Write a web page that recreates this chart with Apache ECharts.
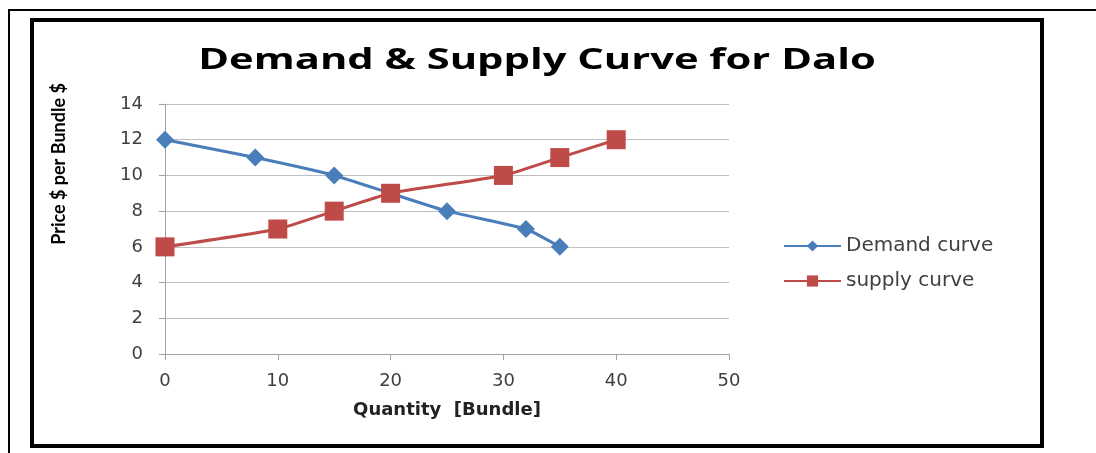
<!DOCTYPE html>
<html>
<head>
<meta charset="utf-8">
<style>
  html, body { margin: 0; padding: 0; background: #fff; }
  #chart { width: 1096px; height: 453px; }
</style>
<script src="https://cdn.jsdelivr.net/npm/echarts@6/dist/echarts.min.js"></script>
</head>
<body>
<div id="chart"></div>
<script>
// values
const demandQty = [0, 8, 15, 20, 25, 32, 35]
const demandPrice = [12, 11, 10, 9, 8, 7, 6]
const supplyQty = [0, 10, 15, 20, 30, 35, 40]
const supplyPrice = [6, 7, 8, 9, 10, 11, 12]

const chart = echarts.init(document.getElementById('chart'))

const pairs = (xs, ys) => xs.map((x, i) => [x, ys[i]])

chart.setOption({
  animation: false,
  backgroundColor: '#fff',
  /* frames round the chart, and the title (the source picture is stretched sideways) */
  graphic: [
    { type: 'line', shape: { x1: 8, y1: 10, x2: 1096, y2: 10 }, style: { stroke: '#000', lineWidth: 2 } },
    { type: 'line', shape: { x1: 9, y1: 10, x2: 9, y2: 453 }, style: { stroke: '#000', lineWidth: 2 } },
    { type: 'rect', shape: { x: 32, y: 20, width: 1010, height: 426 }, style: { fill: 'none', stroke: '#000', lineWidth: 4 } },
    {
      type: 'text',
      x: 537,
      y: 61,
      scaleX: 1.49,
      style: {
        text: 'Demand & Supply Curve for Dalo',
        font: 'bold 28px "Open Sans"',
        fill: '#000',
        textAlign: 'center',
        textVerticalAlign: 'middle'
      }
    }
  ],
  grid: { left: 165, right: 367, top: 104, bottom: 99 },
  legend: {
    orient: 'vertical',
    left: 783,
    top: 236,
    padding: 0,
    itemWidth: 57,
    itemHeight: 14,
    itemGap: 15,
    textStyle: { fontFamily: 'DejaVu Sans', fontSize: 20, color: '#404040' },
    data: ['Demand curve', 'supply curve']
  },
  xAxis: {
    type: 'value',
    min: 0,
    max: 50,
    interval: 10,
    name: 'Quantity  [Bundle]',
    nameLocation: 'middle',
    nameGap: 47,
    nameTextStyle: { fontFamily: 'DejaVu Sans', fontWeight: 'bold', fontSize: 18, color: '#222' },
    axisLine: { lineStyle: { color: '#a0a0a0' } },
    axisTick: { show: true, length: 6, lineStyle: { color: '#a0a0a0' } },
    axisLabel: { fontFamily: 'DejaVu Sans', fontSize: 18, color: '#404040', margin: 18 },
    splitLine: { show: false }
  },
  yAxis: {
    type: 'value',
    min: 0,
    max: 14,
    interval: 2,
    name: 'Price $ per Bundle $',
    nameLocation: 'middle',
    nameRotate: 90,
    nameGap: 97,
    nameTextStyle: { fontFamily: 'Lato', fontWeight: 'bold', fontSize: 18, color: '#000', padding: [0, 0, 0, 130] },
    axisLine: { show: true, lineStyle: { color: '#a0a0a0' } },
    axisTick: { show: true, length: 6, lineStyle: { color: '#a0a0a0' } },
    axisLabel: { fontFamily: 'DejaVu Sans', fontSize: 18, color: '#404040', margin: 22 },
    splitLine: { lineStyle: { color: '#bfbfbf' } }
  },
  series: [
    {
      name: 'Demand curve',
      type: 'line',
      data: pairs(demandQty, demandPrice),
      smooth: 0.15,
      symbol: 'diamond',
      symbolSize: 18,
      color: '#4a7ebb',
      lineStyle: { width: 3, color: '#4a7ebb' },
      itemStyle: { color: '#4a7ebb' }
    },
    {
      name: 'supply curve',
      type: 'line',
      data: pairs(supplyQty, supplyPrice),
      smooth: 0.15,
      symbol: 'rect',
      symbolSize: 19,
      color: '#be4b48',
      lineStyle: { width: 3, color: '#be4b48' },
      itemStyle: { color: '#be4b48' }
    }
  ]
})
</script>
</body>
</html>
